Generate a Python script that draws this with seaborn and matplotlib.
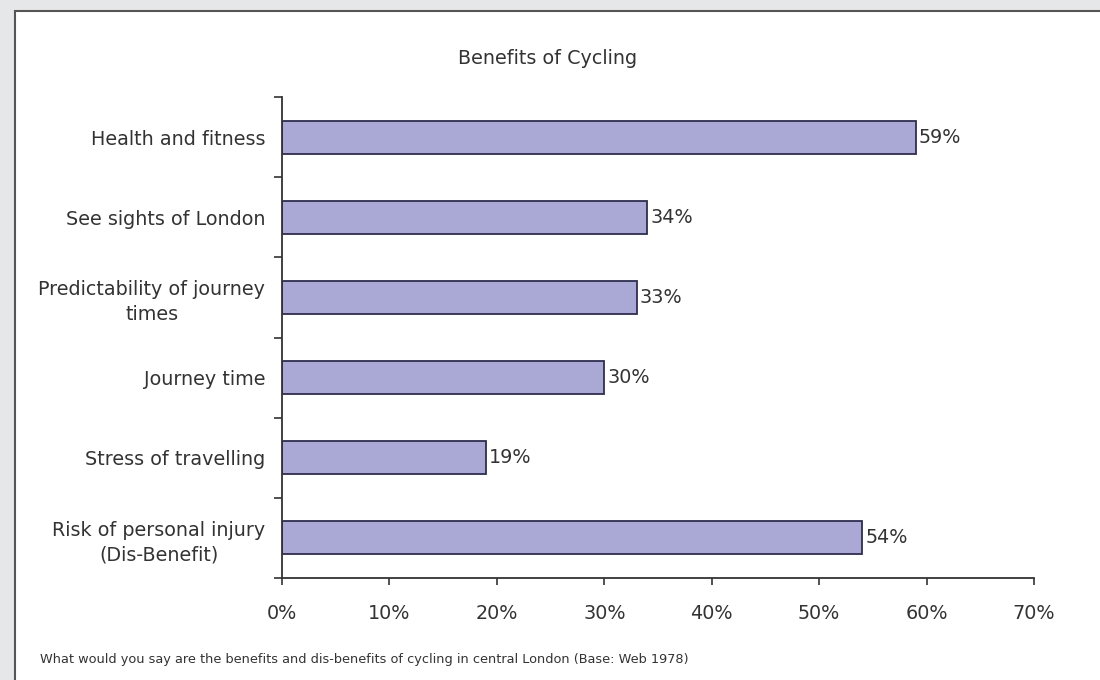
import matplotlib
matplotlib.use("Agg")
import matplotlib.pyplot as plt
import seaborn as sns
import pandas as pd
from matplotlib.patches import Rectangle

categories = ["Health and fitness", "See sights of London", "Predictability of journey\ntimes",
              "Journey time", "Stress of travelling", "Risk of personal injury\n(Dis-Benefit)"]
values = [59, 34, 33, 30, 19, 54]
xticks = [0, 10, 20, 30, 40, 50, 60, 70]
xtick_labels = ["0%", "10%", "20%", "30%", "40%", "50%", "60%", "70%"]

sns.set_style("white")
plt.rcParams['font.family'] = ['DejaVu Sans']

TXT = "#333333"
FS = 13.8

fig = plt.figure(figsize=(11, 6.8), dpi=100)
fig.patch.set_facecolor("#e6e7e9")
# white panel (background axes)
bg = fig.add_axes([0, 0, 1, 1], zorder=-10)
bg.set_xlim(0, 1100)
bg.set_ylim(680, 0)
bg.axis("off")
bg.add_patch(Rectangle((15, 11), 1200, 800, facecolor="white", edgecolor="#555555", linewidth=1.5))

ax = fig.add_axes([282/1100, 1 - 578/680, (1034-282)/1100, (578-97)/680])
ax.set_facecolor("none")
df = pd.DataFrame({"cat": categories, "val": values})
sns.barplot(data=df, x="val", y="cat", orient="h", color="#aaa9d6", saturation=1,
            edgecolor="#2e2d4f", linewidth=1.3, width=0.41, ax=ax)
for i, v in enumerate(values):
    ax.text(v + 0.3, i, f"{v}%", va="center", ha="left", fontsize=FS, color=TXT)

ax.set_xlim(0, 70)
ax.set_ylim(5.5, -0.5)
ax.set_xticks(xticks)
ax.set_xticklabels(xtick_labels, fontsize=FS, color=TXT)
ax.set_yticks(range(len(categories)))
ax.set_yticklabels(categories, fontsize=FS, color=TXT, ha="right", multialignment="center",
                   linespacing=1.35)
ax.tick_params(axis="y", length=0, pad=12)
ax.tick_params(axis="x", length=5, width=1.2, color=TXT, pad=14, direction="out", bottom=True)
ax.set_yticks([i - 0.5 for i in range(len(categories) + 1)], minor=True)
ax.tick_params(axis="y", which="minor", length=6, width=1.2, color=TXT, left=True)
for s in ["top", "right"]:
    ax.spines[s].set_visible(False)
for s in ["left", "bottom"]:
    ax.spines[s].set_color(TXT)
    ax.spines[s].set_linewidth(1.3)
ax.set_xlabel("")
ax.set_ylabel("")

fig.text(548/1100, 1 - 58/680, "Benefits of Cycling", ha="center", va="center", fontsize=FS, color=TXT)
fig.text(40/1100, 1 - 659/680, "What would you say are the benefits and dis-benefits of cycling in central London (Base: Web 1978)",
         ha="left", va="center", fontsize=9.3, color=TXT)

fig.savefig("out.png", dpi=100, facecolor=fig.get_facecolor())
